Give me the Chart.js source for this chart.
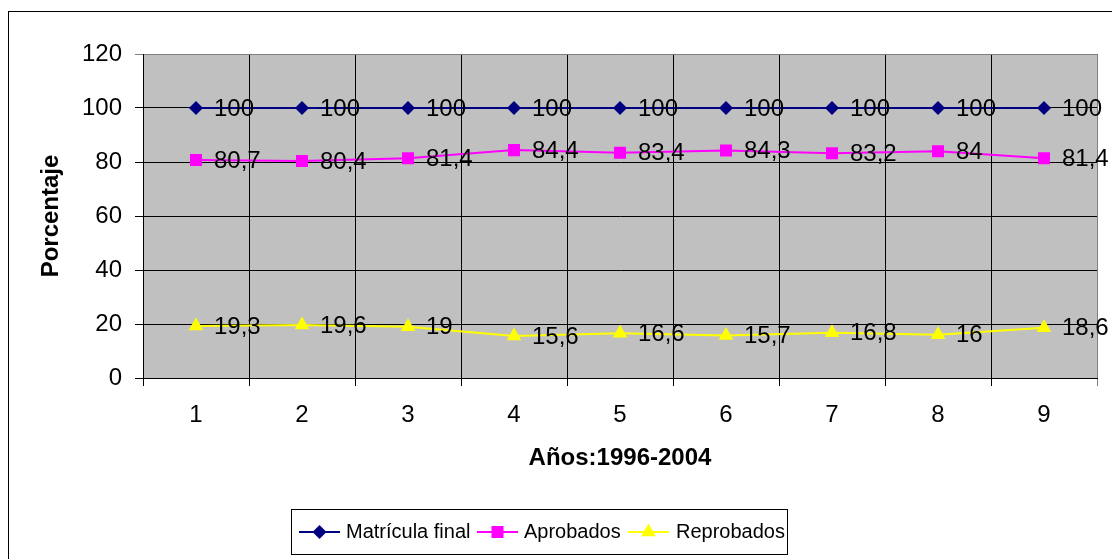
<!DOCTYPE html>
<html>
<head>
<meta charset="utf-8">
<script src="https://cdn.jsdelivr.net/npm/chart.js@4.4.0/dist/chart.umd.min.js"></script>
<style>
html, body { margin: 0; padding: 0; background: #fff; }
canvas { display: block; }
</style>
</head>
<body>
<canvas id="LineChart" width="1112" height="559"></canvas>
<script>
var years = ['1', '2', '3', '4', '5', '6', '7', '8', '9'];
var matricula = [100, 100, 100, 100, 100, 100, 100, 100, 100];
var aprobados = [80.7, 80.4, 81.4, 84.4, 83.4, 84.3, 83.2, 84, 81.4];
var reprobados = [19.3, 19.6, 19, 15.6, 16.6, 15.7, 16.8, 16, 18.6];
var seriesNames = ['Matrícula final', 'Aprobados', 'Reprobados'];
var yMin = 0, yMax = 120, yStep = 20;

var FONT = "'Liberation Sans', Arial, sans-serif";

function drawMarker(ctx, style, x, y, r, color) {
    ctx.save();
    ctx.fillStyle = color;
    ctx.beginPath();
    if (style === 'rectRot') {
        ctx.moveTo(x, y - r); ctx.lineTo(x + r, y); ctx.lineTo(x, y + r); ctx.lineTo(x - r, y);
    } else if (style === 'rect') {
        var s = r * Math.SQRT1_2;
        ctx.rect(x - s, y - s, 2 * s, 2 * s);
    } else {
        ctx.moveTo(x, y - r);
        ctx.lineTo(x + r * 0.866, y + r / 2);
        ctx.lineTo(x - r * 0.866, y + r / 2);
    }
    ctx.closePath();
    ctx.fill();
    ctx.restore();
}

// gray plot area + outer frame
var plotBackground = {
    id: 'plotBackground',
    beforeDraw: function (chart) {
        var ctx = chart.ctx, a = chart.chartArea;
        ctx.save();
        ctx.fillStyle = '#C0C0C0';
        ctx.fillRect(a.left, a.top, a.right - a.left, a.bottom - a.top);
        ctx.strokeStyle = '#000';
        ctx.lineWidth = 1;
        ctx.strokeRect(8.5, 11.5, 1300, 700);
        ctx.restore();
    }
};

// value labels to the right of each point
var valueLabels = {
    id: 'valueLabels',
    afterDatasetsDraw: function (chart) {
        var ctx = chart.ctx;
        ctx.save();
        ctx.font = '24px ' + FONT;
        ctx.fillStyle = '#000';
        ctx.textAlign = 'left';
        ctx.textBaseline = 'middle';
        chart.data.datasets.forEach(function (ds, i) {
            chart.getDatasetMeta(i).data.forEach(function (pt, j) {
                var txt = String(ds.data[j]).replace('.', ',');
                ctx.fillText(txt, pt.x + 18, pt.y + 1);
            });
        });
        ctx.restore();
    }
};

// boxed legend at the bottom, line through marker like the original
var boxLegend = {
    id: 'boxLegend',
    afterDraw: function (chart) {
        var ctx = chart.ctx;
        var cy = 532;
        var items = [
            { x: 299, tx: 346 },
            { x: 477, tx: 524 },
            { x: 628, tx: 676 }
        ];
        ctx.save();
        ctx.strokeStyle = '#000';
        ctx.lineWidth = 1;
        ctx.strokeRect(291.5, 509.5, 496, 45);
        ctx.font = '20px ' + FONT;
        ctx.textAlign = 'left';
        ctx.textBaseline = 'middle';
        chart.data.datasets.forEach(function (ds, i) {
            var it = items[i];
            ctx.strokeStyle = ds.borderColor;
            ctx.lineWidth = 2;
            ctx.beginPath();
            ctx.moveTo(it.x, cy);
            ctx.lineTo(it.x + 41, cy);
            ctx.stroke();
            drawMarker(ctx, ds.pointStyle, it.x + 20.5, cy, ds.pointRadius, ds.pointBackgroundColor);
            ctx.fillStyle = '#000';
            ctx.fillText(ds.label, it.tx, cy);
        });
        ctx.restore();
    }
};

var ctx = document.getElementById('LineChart').getContext('2d');

var lineChart = new Chart(ctx, {
    type: 'line',
    data: {
        labels: years,
        datasets: [
            {
                label: seriesNames[0],
                data: matricula,
                borderColor: '#000080',
                backgroundColor: '#000080',
                borderWidth: 2,
                pointStyle: 'rectRot',
                pointRadius: 7,
                pointBackgroundColor: '#000080',
                pointBorderColor: '#000080',
                pointBorderWidth: 0,
                tension: 0
            },
            {
                label: seriesNames[1],
                data: aprobados,
                borderColor: '#FF00FF',
                backgroundColor: '#FF00FF',
                borderWidth: 2,
                pointStyle: 'rect',
                pointRadius: 8.5,
                pointBackgroundColor: '#FF00FF',
                pointBorderColor: '#FF00FF',
                pointBorderWidth: 0,
                tension: 0
            },
            {
                label: seriesNames[2],
                data: reprobados,
                borderColor: '#FFFF00',
                backgroundColor: '#FFFF00',
                borderWidth: 2,
                pointStyle: 'triangle',
                pointRadius: 8.5,
                pointBackgroundColor: '#FFFF00',
                pointBorderColor: '#FFFF00',
                pointBorderWidth: 0,
                tension: 0
            }
        ]
    },
    options: {
        responsive: false,
        animation: false,
        devicePixelRatio: 1,
        layout: { padding: { top: 54, right: 15, bottom: 71, left: 0 } },
        plugins: {
            legend: { display: false },
            tooltip: { enabled: false }
        },
        scales: {
            x: {
                offset: true,
                grid: {
                    offset: true,
                    color: function (c) { return c.index === undefined ? '#808080' : '#000'; },
                    lineWidth: 1,
                    tickLength: 8
                },
                border: { color: '#000', width: 1 },
                ticks: {
                    color: '#000',
                    font: { family: FONT, size: 24 },
                    padding: 15,
                    maxRotation: 0
                },
                title: {
                    display: true,
                    text: 'Años:1996-2004',
                    color: '#000',
                    font: { family: FONT, size: 24, weight: 'bold' },
                    padding: { top: 0, bottom: 15 }
                },
                afterFit: function (scale) { scale.height = 110; }
            },
            y: {
                min: yMin,
                max: yMax,
                grid: {
                    color: function (c) { return c.tick && c.tick.value === yMax ? '#808080' : '#000'; },
                    lineWidth: 1,
                    tickLength: 8
                },
                border: { color: '#000', width: 1 },
                ticks: {
                    stepSize: yStep,
                    color: '#000',
                    font: { family: FONT, size: 24 },
                    padding: 13
                },
                title: {
                    display: true,
                    text: 'Porcentaje',
                    color: '#000',
                    font: { family: FONT, size: 24, weight: 'bold' },
                    padding: { top: 37, bottom: 0 }
                },
                afterFit: function (scale) { scale.width = 143; }
            }
        }
    },
    plugins: [plotBackground, valueLabels, boxLegend]
});
</script>
</body>
</html>
